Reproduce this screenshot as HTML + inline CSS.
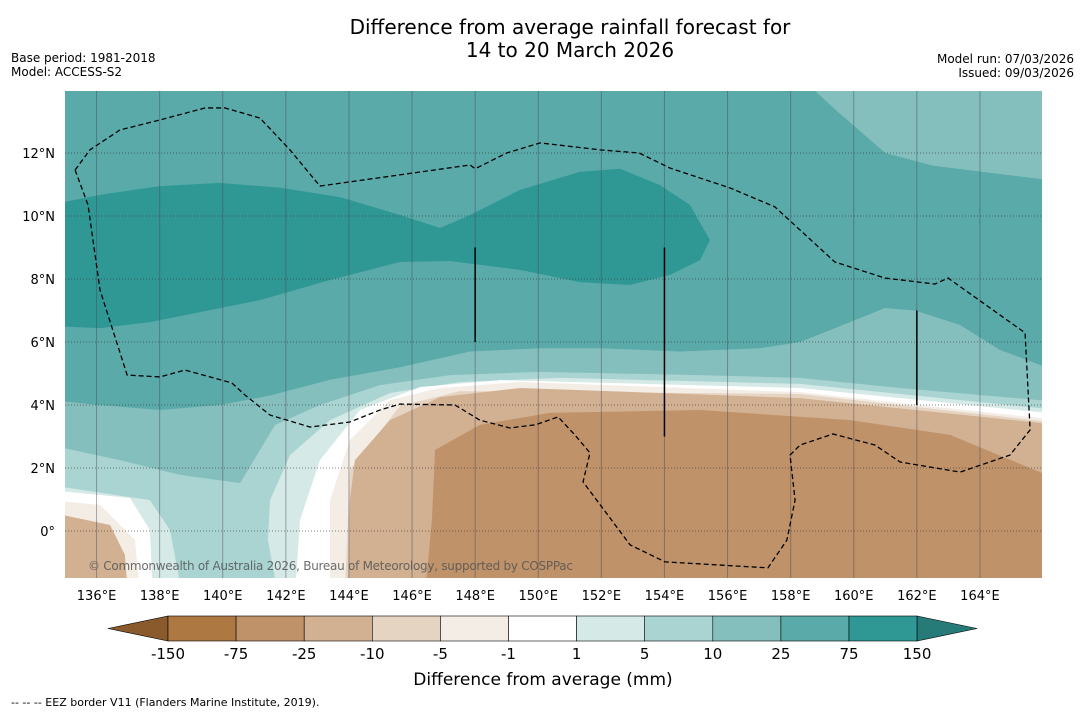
<!DOCTYPE html>
<html><head><meta charset="utf-8">
<style>
body{margin:0;background:#fff;font-family:"Liberation Sans","DejaVu Sans",sans-serif;}
svg text{font-family:"DejaVu Sans","Liberation Sans",sans-serif;}
</style></head>
<body>
<svg id="chart" width="1085" height="713" xmlns="http://www.w3.org/2000/svg">
<rect width="1085" height="713" fill="#fff"/>
<text x="570" y="34" font-size="20" text-anchor="middle">Difference from average rainfall forecast for</text>
<text x="570" y="57" font-size="20" text-anchor="middle">14 to 20 March 2026</text>
<text x="11" y="62" font-size="12">Base period: 1981-2018</text>
<text x="11" y="76" font-size="12">Model: ACCESS-S2</text>
<text x="1074" y="63" font-size="12" text-anchor="end">Model run: 07/03/2026</text>
<text x="1074" y="77" font-size="12" text-anchor="end">Issued: 09/03/2026</text>
<defs><clipPath id="mapclip"><rect x="65" y="91" width="977" height="487"/></clipPath></defs>
<g id="map" clip-path="url(#mapclip)"></g>
<g id="axes"></g>
<g id="cbar"></g>
<text x="543" y="685" font-size="17" text-anchor="middle">Difference from average (mm)</text>
<text x="11" y="706" font-size="11">--  --  -- EEZ border V11 (Flanders Marine Institute, 2019).</text>
</svg>
<script>
const NS="http://www.w3.org/2000/svg";
const lonTicks=[136,138,140,142,144,146,148,150,152,154,156,158,160,162,164];
const latTicks=[0,2,4,6,8,10,12];
const cbarLabels=["-150","-75","-25","-10","-5","-1","1","5","10","25","75","150"];
const cbarColors=["#ae7843","#bf9269","#d2b092","#e6d4c2","#f3ede6","#ffffff","#d5e9e7","#a9d4d2","#84bfbe","#59aaa9","#2f9895"];
const cbarLow="#8a5a2c", cbarHigh="#267a77";
const layerBg="#59aaa9";
const B=-2, R=166.5, L=134.5;
const layers=[
["#84bfbe",[[158.2,14.5],[159.5,13.3],[161,12.0],[162.5,11.6],[R,11.1],[R,14.5]]],
["#2f9895",[[L,10.35],[136.11,10.67],[138.01,10.95],[139.91,11.05],[141.81,10.9],[143.72,10.6],[145.62,10.03],[146.89,9.62],[147.84,10.03],[149.42,10.83],[151.32,11.4],[152.59,11.5],[153.86,10.98],[154.81,10.35],[155.44,9.24],[155.13,8.6],[154.18,8.13],[152.91,7.81],[151.32,7.9],[149.42,8.29],[147.2,8.57],[145.62,8.54],[143.4,7.97],[141.18,7.33],[139.28,6.95],[137.7,6.63],[136.11,6.44],[L,6.51]]],
["#84bfbe",[[L,4.16],[136.11,4.0],[138.01,3.84],[139.91,4.0],[141.5,4.3],[143.4,4.8],[145.62,5.2],[147.84,5.7],[150.06,5.8],[151.96,5.8],[154.49,5.7],[157.03,5.8],[158.3,6.0],[159.88,6.63],[160.99,7.08],[161.94,7.0],[163.37,6.54],[164.63,5.75],[R,5.05],[R,B],[L,B]]],
["#a9d4d2",[[L,2.73],[136.74,2.25],[138.65,1.78],[140.55,1.52],[141.66,3.37],[143.08,4.0],[144.98,4.63],[147.2,4.95],[150.06,5.05],[155.13,4.95],[158.3,4.86],[161.47,4.54],[R,4.1],[R,B],[L,B]]],
["#d5e9e7",[[141.75,B],[141.43,-0.29],[141.5,0.98],[142.13,2.41],[143.4,3.52],[145.3,4.38],[147.52,4.73],[150.69,4.86],[158.3,4.67],[R,3.84],[R,B]]],
["#ffffff",[[142.29,B],[142.45,0.35],[143.08,2.25],[144.35,3.84],[146.26,4.57],[148.8,4.79],[158.3,4.54],[R,3.71],[R,B]]],
["#f3ede6",[[143.4,B],[143.4,0.98],[144.03,2.89],[145.3,4.16],[146.89,4.54],[149.42,4.73],[158.3,4.41],[R,3.52],[R,B]]],
["#e6d4c2",[[143.87,B],[144.03,1.94],[145.62,3.97],[147.52,4.44],[158.3,4.35],[R,3.43],[R,B]]],
["#d2b092",[[143.97,B],[144.03,0.98],[144.19,2.25],[145.3,3.52],[146.89,4.25],[149.42,4.54],[158.3,4.22],[R,3.37],[R,B]]],
["#bf9269",[[146.41,B],[146.63,0.35],[146.73,2.57],[148.15,3.37],[150.37,3.75],[155.13,3.84],[159.88,3.52],[163.05,3.05],[R,1.62],[R,B]]],
["#d5e9e7",[[L,1.46],[137.69,0.98],[138.33,0.03],[138.71,B],[L,B]]],
["#ffffff",[[L,1.3],[137.06,1.05],[137.69,0.03],[137.79,B],[L,B]]],
["#f3ede6",[[L,0.98],[136.11,0.83],[137.22,-0.29],[137.38,B],[L,B]]],
["#d2b092",[[L,0.6],[136.43,0.19],[136.9,-0.76],[136.99,B],[L,B]]]
];
const eez=[[135.32,11.46],[135.79,12.1],[136.74,12.73],[138.01,13.05],[139.44,13.43],[140.07,13.43],[141.18,13.11],[142.13,12.1],[143.08,10.95],[147.84,11.62],[148.0,11.5],[149.0,12.0],[150.06,12.32],[151.96,12.1],[153.2,12.0],[154.18,11.52],[156.08,10.89],[157.5,10.29],[159.4,8.54],[160.99,8.03],[162.57,7.84],[162.99,8.03],[165.43,6.29],[165.59,3.21],[164.95,2.41],[163.37,1.87],[161.47,2.19],[160.67,2.73],[159.34,3.08],[158.3,2.73],[157.98,2.41],[158.14,0.98],[157.88,-0.29],[157.28,-1.17],[154.02,-0.98],[152.91,-0.44],[151.42,1.56],[151.64,2.48],[151.16,3.05],[150.63,3.62],[149.9,3.37],[149.1,3.27],[148.15,3.52],[147.36,4.0],[145.62,4.03],[144.98,3.84],[144.03,3.46],[142.77,3.3],[141.5,3.68],[140.7,4.32],[140.29,4.7],[138.8,5.11],[138.01,4.89],[136.97,4.95],[136.11,7.65],[135.73,10.35],[135.32,11.46]];
const boundaryLines=[[148,9,6],[154,9,3],[162,7,4]];

const x=lon=>65+(lon-135)*31.55;
const y=lat=>531-lat*31.5;
const map=document.getElementById('map');
function mk(tag,attrs,parent){const e=document.createElementNS(NS,tag);for(const k in attrs)e.setAttribute(k,attrs[k]);parent.appendChild(e);return e;}
const bg=mk('rect',{x:65,y:91,width:977,height:487,fill:layerBg},map);


layers.forEach((l,i)=>{
 const p=mk('polygon',{points:l[1].map(q=>x(q[0])+','+y(q[1])).join(' '),fill:l[0]},map);
 
 
});
lonTicks.forEach(t=>{
 const g=mk('line',{x1:x(t),x2:x(t),y1:91,y2:578,stroke:'#445',"stroke-opacity":0.45,"stroke-width":1},map);
 
 
});
latTicks.forEach(t=>{
 const g=mk('line',{x1:65,x2:1042,y1:y(t),y2:y(t),stroke:'#333',"stroke-opacity":0.6,"stroke-width":1,"stroke-dasharray":"1,2"},map);
 
 
});
const ez=mk('polyline',{points:eez.map(q=>x(q[0])+','+y(q[1])).join(' '),fill:'none',stroke:'#000',"stroke-width":1.3,"stroke-dasharray":"5,3"},map);


boundaryLines.forEach(b=>{
 const l=mk('line',{x1:x(b[0]),x2:x(b[0]),y1:y(b[1]),y2:y(b[2]),stroke:'#000',"stroke-width":1.5},map);
 
 
});
const cr=mk('text',{x:88,y:570,"font-size":12,fill:'#555',"fill-opacity":0.85,textLength:485},map);
cr.textContent='© Commonwealth of Australia 2026, Bureau of Meteorology, supported by COSPPac';



const axes=document.getElementById('axes');
lonTicks.forEach(t=>{
 const tx=mk('text',{x:x(t),y:600,"font-size":13,"text-anchor":"middle"},axes);
 tx.textContent=t+'°E';
 
 
});
latTicks.forEach(t=>{
 const tx=mk('text',{x:55,y:y(t)+5,"font-size":13,"text-anchor":"end"},axes);
 tx.textContent=t===0?'0°':t+'°N';
 
 
});
const cb=document.getElementById('cbar');
const cx0=168,cw=68.1,cy=616,ch=25;
const lt=mk('polygon',{points:`108,${cy+ch/2} ${cx0},${cy} ${cx0},${cy+ch}`,fill:cbarLow,stroke:'#000',"stroke-width":0.6},cb);


cbarColors.forEach((c,i)=>{
 const r=mk('rect',{x:cx0+i*cw,y:cy,width:cw,height:ch,fill:c,stroke:'#000',"stroke-width":0.6},cb);
 
 
});
const xe=cx0+cbarColors.length*cw;
const rt=mk('polygon',{points:`${xe},${cy} ${xe+60},${cy+ch/2} ${xe},${cy+ch}`,fill:cbarHigh,stroke:'#000',"stroke-width":0.6},cb);


cbarLabels.forEach((s,i)=>{
 const t=mk('text',{x:cx0+i*cw,y:659,"font-size":15,"text-anchor":"middle"},cb);
 t.textContent=s;
 
 
});
</script>
</body></html>
